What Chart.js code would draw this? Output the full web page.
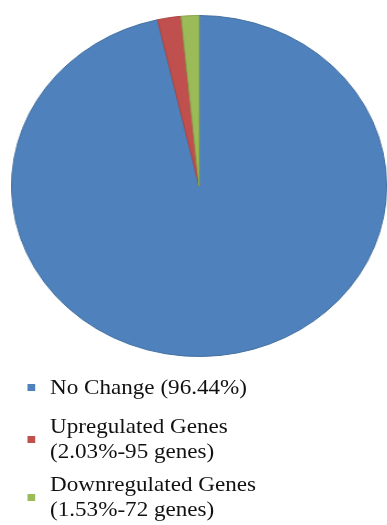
<!DOCTYPE html>
<html>
<head>
<meta charset="utf-8">
<script src="https://cdn.jsdelivr.net/npm/chart.js@4/dist/chart.umd.min.js"></script>
<style>
  body { margin: 0; background: #fff; }
  #wrap {
    position: relative;
    width: 352px;
    height: 525px;
    transform: scaleX(1.1);
    transform-origin: 0 0;
  }
  #pie-chart { position: absolute; left: 10px; top: 15px; }
  #legend {
    position: absolute;
    left: 25px;
    top: 375px;
    font-family: "Liberation Serif", "Times New Roman", serif;
    font-size: 21px;
    line-height: 25px;
    color: #111;
  }
  .item { display: flex; align-items: center; }
  .item:nth-child(2) { margin-top: 14px; }
  .item:nth-child(3) { margin-top: 8px; }
  .box { width: 6.5px; height: 7px; margin-right: 14px; flex: none; }
</style>
</head>
<body>
<div id="wrap">
  <canvas id="pie-chart" width="342" height="342" style="width:342px;height:342px"></canvas>
  <div id="legend"></div>
</div>
<script>
// data
const categories = ['No Change', 'Upregulated Genes', 'Downregulated Genes'];
const percents = [96.44, 2.03, 1.53];
const geneCounts = [null, 95, 72];
const colors = ['#4F81BD', '#C0504D', '#9BBB59'];
const edgeColors = ['#43709f', '#a94542', '#88a64c'];

let ctx = document.getElementById('pie-chart');
new Chart(ctx, {
  type: 'pie',
  data: {
    labels: categories,
    datasets: [{
      data: percents,
      backgroundColor: colors,
      borderColor: edgeColors,
      borderWidth: 1,
    }]
  },
  options: {
    responsive: false,
    animation: false,
    layout: { padding: 0 },
    plugins: {
      legend: { display: false },
      tooltip: { enabled: false }
    }
  }
});

// legend text, built from the same arrays
let legend = document.getElementById('legend');
categories.forEach((name, i) => {
  let text = geneCounts[i] === null
    ? `${name} (${percents[i].toFixed(2)}%)`
    : `${name}<br>(${percents[i].toFixed(2)}%-${geneCounts[i]} genes)`;
  legend.innerHTML += `<div class="item"><span class="box" style="background:${colors[i]}"></span><span>${text}</span></div>`;
});
</script>
</body>
</html>
